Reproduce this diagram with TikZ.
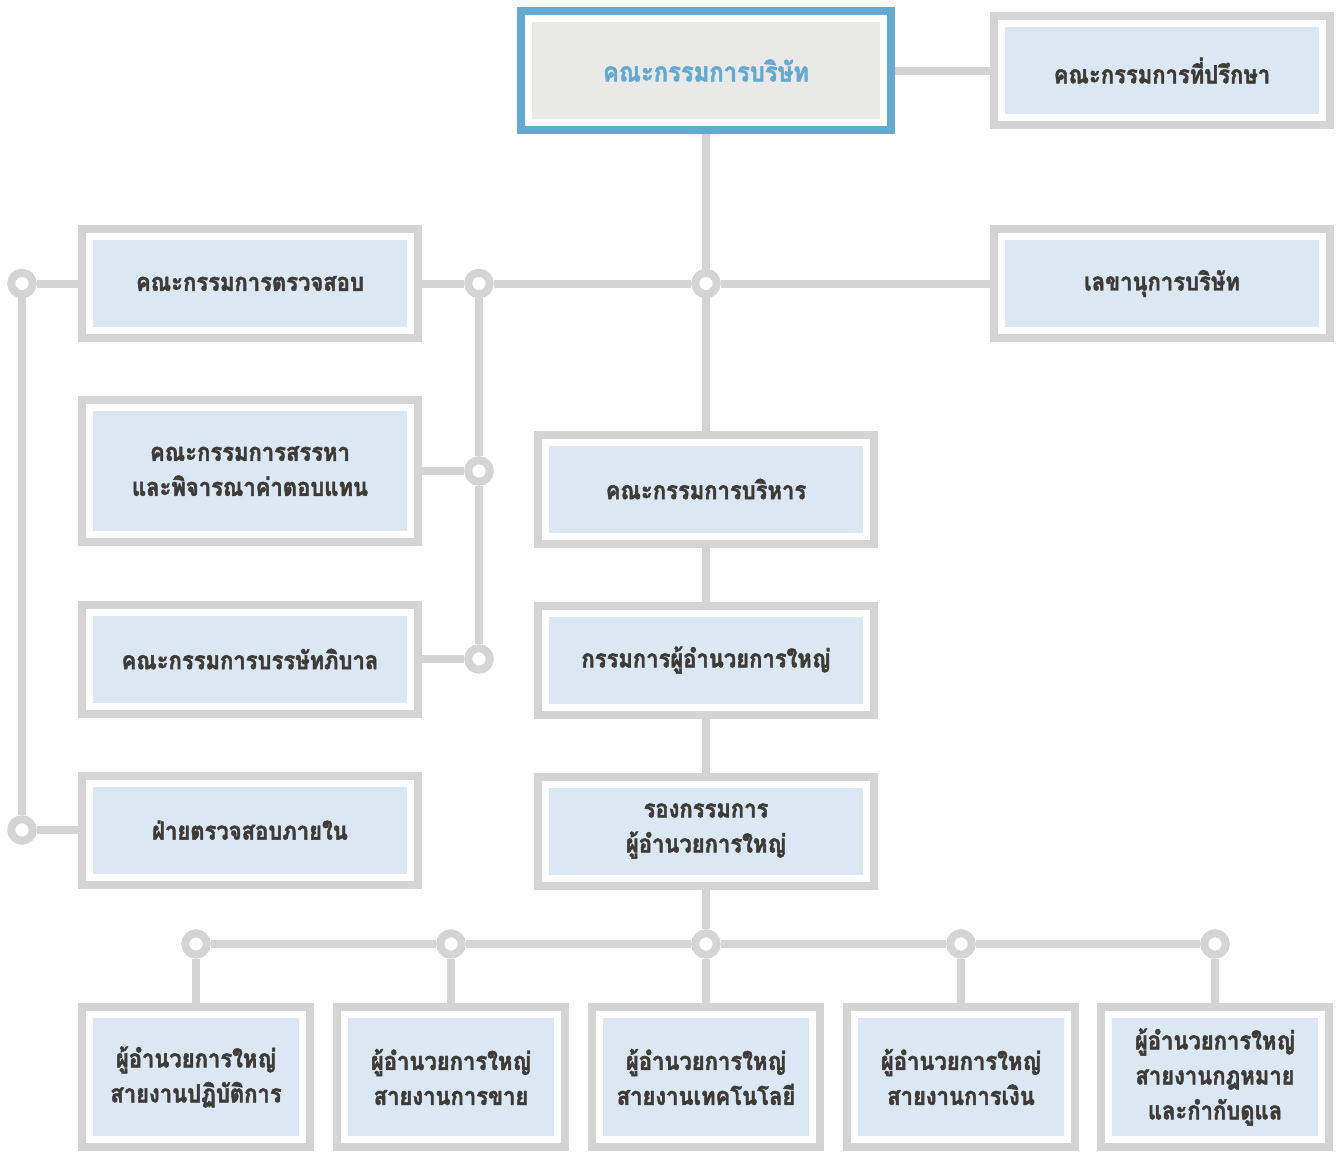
\documentclass[tikz,border=0pt]{standalone}
\usepackage{fontspec}
\newfontfamily\thaifont[Script=Thai, FakeStretch=0.88, FakeBold=1.8]{Loma}
\usetikzlibrary{positioning}
\definecolor{framegray}{HTML}{D4D4D4}
\definecolor{boxblue}{HTML}{DCE7F4}
\definecolor{boardblue}{HTML}{65A8D0}
\definecolor{boardfill}{HTML}{E9E9E7}
\definecolor{textdark}{HTML}{3E3A36}

\begin{document}
\begin{tikzpicture}[x=1pt,y=-1pt]
\tikzstyle{unit}=[rectangle, draw=framegray, line width=8pt, fill=white, minimum width=336pt, minimum height=109pt, align=center, text=textdark, font=\thaifont\bfseries\fontsize{25}{35}\selectfont, path picture={\fill[boxblue] ([shift={(11pt,-11pt)}]path picture bounding box.north west) rectangle ([shift={(-11pt,11pt)}]path picture bounding box.south east);}]
\tikzstyle{board}=[unit, draw=boardblue, minimum width=370pt, minimum height=119pt, text=boardblue, font=\thaifont\bfseries\fontsize{27}{35}\selectfont, path picture={\fill[boardfill] ([shift={(11pt,-11pt)}]path picture bounding box.north west) rectangle ([shift={(-11pt,11pt)}]path picture bounding box.south east);}]
\tikzstyle{small}=[unit, minimum width=228pt, minimum height=140pt]
\tikzstyle{dot}=[circle, draw=framegray, line width=8pt, fill=white, minimum size=21.5pt, inner sep=0pt]
\tikzstyle{connect}=[draw=framegray, line width=8pt]
  \useasboundingbox (0,0) rectangle (1340,1151);

  % junctions
  \node[dot] (j0) at (706,283.5) {};
  \node[dot] (j1) at (479,283.5) {};
  \node[dot] (j2) at (479,471) {};
  \node[dot] (j3) at (479,659) {};
  \node[dot] (l1) at (22,283.5) {};
  \node[dot] (l2) at (22,830) {};
  \node[dot] (b1) at (196,944) {};
  \node[dot] (b2) at (451,944) {};
  \node[dot] (b3) at (706,944) {};
  \node[dot] (b4) at (961,944) {};
  \node[dot] (b5) at (1215,944) {};

  \node[board] (board) at (706,70.5) {คณะกรรมการบริษัท};
  \node[unit] (advisor) at (1162,70.5) {คณะกรรมการที่ปรึกษา};
  \node[unit] (secretary) at (1162,283.5) {เลขานุการบริษัท};

  \node[unit] (audit) at (250,283.5) {คณะกรรมการตรวจสอบ};
  \node[unit, minimum height=142pt] (nomination) at (250,471) {คณะกรรมการสรรหา\\และพิจารณาค่าตอบแทน};
  \node[unit] (governance) at (250,659) {คณะกรรมการบรรษัทภิบาล};
  \node[unit] (internal) at (250,830) {ฝ่ายตรวจสอบภายใน};

  \node[unit] (exec) at (706,489) {คณะกรรมการบริหาร};
  \node[unit, below=54pt of exec] (ceo) {กรรมการผู้อำนวยการใหญ่};
  \node[unit, below=54pt of ceo] (deputy) {รองกรรมการ\\ผู้อำนวยการใหญ่};

  \node[small] (ops) at (196,1077) {ผู้อำนวยการใหญ่\\สายงานปฏิบัติการ};
  \node[small] (sales) at (451,1077) {ผู้อำนวยการใหญ่\\สายงานการขาย};
  \node[small] (tech) at (706,1077) {ผู้อำนวยการใหญ่\\สายงานเทคโนโลยี};
  \node[small] (finance) at (961,1077) {ผู้อำนวยการใหญ่\\สายงานการเงิน};
  \node[small] (legal) at (1215,1077) {ผู้อำนวยการใหญ่\\สายงานกฎหมาย\\และกำกับดูแล};

  \path (board) edge [connect] (advisor)
    (board) edge [connect] (j0)
    (j0) edge [connect] (exec)
    (audit) edge [connect] (j1)
    (j1) edge [connect] (j0)
    (j0) edge [connect] (secretary)
    (j1) edge [connect] (j2)
    (j2) edge [connect] (j3)
    (nomination) edge [connect] (j2)
    (governance) edge [connect] (j3)
    (l1) edge [connect] (l2)
    (l1) edge [connect] (audit)
    (l2) edge [connect] (internal)
    (exec) edge [connect] (ceo)
    (ceo) edge [connect] (deputy)
    (deputy) edge [connect] (b3)
    (b1) edge [connect] (b2)
    (b2) edge [connect] (b3)
    (b3) edge [connect] (b4)
    (b4) edge [connect] (b5)
    (b1) edge [connect] (ops)
    (b2) edge [connect] (sales)
    (b3) edge [connect] (tech)
    (b4) edge [connect] (finance)
    (b5) edge [connect] (legal);
\end{tikzpicture}
\end{document}
